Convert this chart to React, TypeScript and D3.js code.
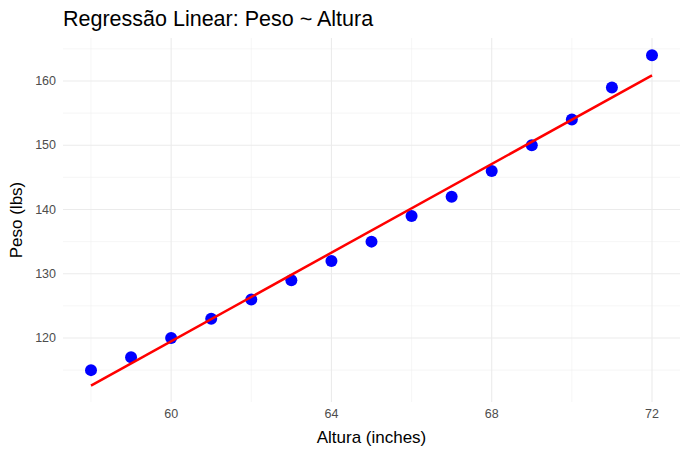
import React from "react";
import * as d3 from "d3";

const heights = [58,59,60,61,62,63,64,65,66,67,68,69,70,71,72];
const weights = [115,117,120,123,126,129,132,135,139,142,146,150,154,159,164];
const xTicks = [60,64,68,72];
const xMinor = [58,62,66,70];
const yTicks = [120,130,140,150,160];
const yMinor = [115,125,135,145,155,165];

export default function App() {
  const W = 690, H = 456;
  const x = d3.scaleLinear().domain([58,72]).range([91,652]);
  const y = d3.scaleLinear().domain([120,160]).range([338,81]);
  const left = 63, right = 680, top = 38, bottom = 402;
  const mx = d3.mean(heights)!, my = d3.mean(weights)!;
  const b = d3.sum(heights.map((h,i)=>(h-mx)*(weights[i]-my))) / d3.sum(heights.map(h=>(h-mx)**2));
  const a = my - b*mx;
  const line = d3.line<number>().x(h=>x(h)).y(h=>y(a+b*h));
  const font = "Liberation Sans, Arial, sans-serif";
  return (
    <svg width={W} height={H} style={{position:"absolute",left:0,top:0,fontFamily:font}}>
      <rect width={W} height={H} fill="white"/>
      {xMinor.map(v=><line key={"xm"+v} x1={x(v)} x2={x(v)} y1={top} y2={bottom} stroke="#f0f0f0" strokeWidth={0.6}/>)}
      {yMinor.map(v=><line key={"ym"+v} x1={left} x2={right} y1={y(v)} y2={y(v)} stroke="#f0f0f0" strokeWidth={0.6}/>)}
      {xTicks.map(v=><line key={"x"+v} x1={x(v)} x2={x(v)} y1={top} y2={bottom} stroke="#ebebeb" strokeWidth={1.1}/>)}
      {yTicks.map(v=><line key={"y"+v} x1={left} x2={right} y1={y(v)} y2={y(v)} stroke="#ebebeb" strokeWidth={1.1}/>)}
      {heights.map((h,i)=><circle key={h} cx={x(h)} cy={y(weights[i])} r={6} fill="#0000ff"/>)}
      <path d={line([58,72])!} stroke="#ff0000" strokeWidth={2.5} fill="none"/>
      {xTicks.map(v=><text key={"xt"+v} x={x(v)} y={418} textAnchor="middle" fontSize={12.5} fill="#4d4d4d">{v}</text>)}
      {yTicks.map(v=><text key={"yt"+v} x={56} y={y(v)+4} textAnchor="end" fontSize={12.5} fill="#4d4d4d">{v}</text>)}
      <text x={(left+right)/2} y={443} textAnchor="middle" fontSize={17} fill="black">Altura (inches)</text>
      <text transform={`translate(22,${(top+bottom)/2}) rotate(-90)`} textAnchor="middle" fontSize={17} fill="black">Peso (lbs)</text>
      <text x={63} y={26} fontSize={21.5} fill="black">Regressão Linear: Peso ~ Altura</text>
    </svg>
  );
}
